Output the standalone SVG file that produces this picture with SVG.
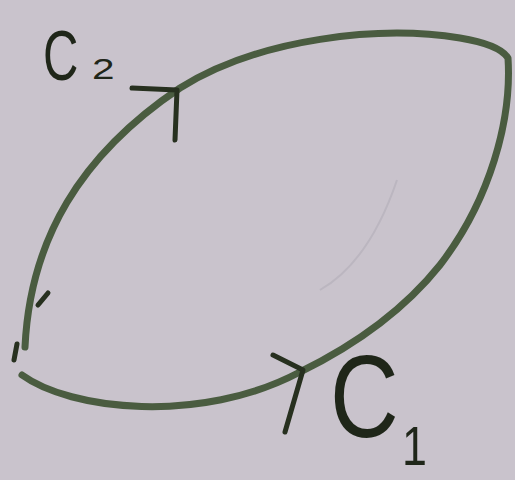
<svg xmlns="http://www.w3.org/2000/svg" width="515" height="480" viewBox="0 0 515 480">
<style>
.curve{fill:none;stroke:#4a5c40;stroke-width:7;stroke-linecap:round;stroke-linejoin:round}
.head{fill:none;stroke:#27301f;stroke-width:5;stroke-linecap:round;stroke-linejoin:round}
.lbl{font-family:"Liberation Sans","DejaVu Sans",sans-serif;fill:#1f2619}
</style>
<rect width="515" height="480" fill="#c9c3cc"/>
<path d="M397,180 C380,230 355,270 320,290" fill="none" stroke="#b3aeb7" stroke-width="2" opacity="0.6"/>
<g id="connectors">
  <path id="c2" class="curve" d="M25,347 C30,240 80,155 180,88 C260,38 380,25 460,38 C490,43 503,50 508,58 C512,120 490,200 440,265 C400,315 345,350 300,372"/>
  <path id="c1" class="curve" d="M22,375 C70,410 200,425 300,372"/>
  <polyline class="head" points="132,88 177,90 175,140"/>
  <polyline class="head" points="273,355 303,370 285,432"/>
  <line class="head" x1="48" y1="293" x2="38" y2="305"/>
  <line class="head" x1="17" y1="344" x2="14" y2="360" stroke-width="4"/>
</g>
<g id="label-c2">
  <text class="lbl" x="0" y="0" font-size="70" transform="translate(43 80) scale(0.7 1)">C</text>
  <text class="lbl" x="0" y="0" font-size="30" transform="translate(92 79) scale(1.35 1)">2</text>
</g>
<g id="label-c1">
  <text class="lbl" x="0" y="0" font-size="116" transform="translate(330 437) scale(0.82 1)">C</text>
  <text class="lbl" x="0" y="0" font-size="56" transform="translate(402 465) scale(0.8 1)">1</text>
</g>
</svg>
